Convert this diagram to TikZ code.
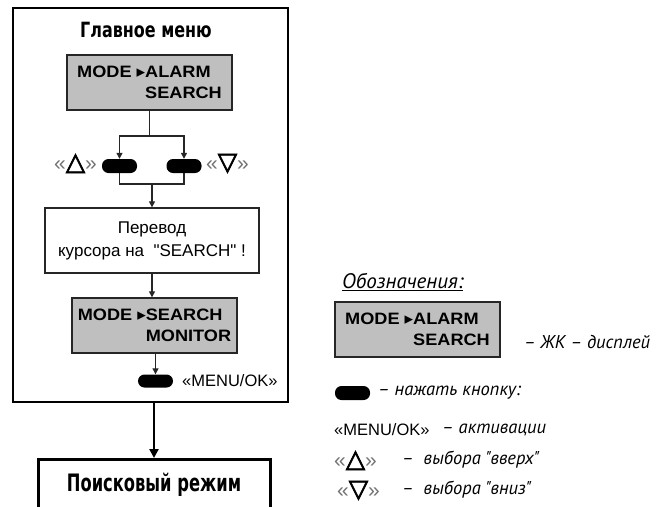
\documentclass[tikz,border=0pt]{standalone}
\usepackage{fontspec}
\setmainfont{Liberation Sans}[Ligatures=TeXOff]
\newfontfamily\lcdfont{Liberation Sans}[FakeStretch=1.1]
\newfontfamily\headfont{DejaVu Sans}[FakeStretch=0.76]
\newfontfamily\modefont{DejaVu Sans}[FakeStretch=0.68]
\newfontfamily\symfont{DejaVu Sans}
\newfontfamily\keyfont{DejaVu Sans}[FakeBold=3]
\newfontfamily\notefont{PT Sans}[Ligatures=TeXOff]
\usetikzlibrary{arrows.meta}

% pointer glyph used on the LCD lines
\newcommand{\lcdptr}{{\symfont\fontsize{17}{17}\selectfont ▸}}
% key symbols in angle quotes
\newcommand{\qopen}{{\color{black!55}\fontsize{21}{21}\selectfont «}}
\newcommand{\qclose}{{\color{black!55}\fontsize{21}{21}\selectfont »}}
\newcommand{\upkey}{\qopen{\keyfont\fontsize{25}{25}\selectfont △}\qclose}
\newcommand{\dnkey}{\qopen{\keyfont\fontsize{25}{25}\selectfont ▽}\qclose}

\begin{document}
\begin{tikzpicture}[x=1pt,y=-1pt,
  lcd/.style={draw=black!85, line width=1.3pt, fill=black!25,
    minimum width=165pt, minimum height=55pt, inner sep=0pt, align=left,
    font=\lcdfont\bfseries\fontsize{16.5}{21}\selectfont},
  msgbox/.style={draw=black!85, line width=1.3pt, fill=white,
    minimum width=214pt, minimum height=65pt, inner sep=0pt, align=center,
    font=\fontsize{17}{23}\selectfont},
  keybtn/.style={fill=black, rounded corners=6.5pt,
    minimum width=35pt, minimum height=14pt, inner sep=0pt},
  keylabel/.style={inner sep=0pt, font=\fontsize{17}{17}\selectfont},
  oklabel/.style={inner sep=0pt, font=\fontsize{16.5}{17}\selectfont},
  note/.style={inner sep=0pt, font=\notefont\itshape\fontsize{18.5}{20}\selectfont},
  conn/.style={draw=black!85, line width=1.2pt},
  arr/.style={conn, -{Triangle[length=6pt,width=6pt]}},
  thickarr/.style={draw=black, line width=2.6pt, -{Triangle[length=9pt,width=9pt]}}
]
\useasboundingbox (0,0) rectangle (663,506);
\clip (0,0) rectangle (663,506);

% main menu frame
\node[draw=black, line width=2.6pt, minimum width=275pt, minimum height=394pt,
  inner sep=0pt] (menu) at (150.5,205) {};
\node[inner sep=0pt, font=\headfont\bfseries\fontsize{21}{21}\selectfont]
  (title) at (146,30) {Главное меню};

% first LCD state
\node[lcd] (lcd1) at (149.5,82.5)
  {MODE \lcdptr ALARM\\\phantom{MODE \lcdptr}SEARCH};

% up / down keys
\node[keybtn] (btnup) at (119.5,166) {};
\node[keybtn] (btndn) at (184,166) {};
\node[keylabel, anchor=base east] (lblup) at (97,170) {\upkey};
\node[keylabel, anchor=base west] (lbldn) at (206,170) {\dnkey};

\coordinate (fork) at (149.5,136);
\coordinate (join) at (152,184);
\draw[conn] (lcd1.south) -- (fork);
\draw[arr] (fork) -| (btnup.north);
\draw[arr] (fork) -| (btndn.north);
\draw[conn] (btnup.south) |- (join) -| (btndn.south);

% cursor message
\node[msgbox] (cursor) at (152,240.5) {Перевод\\курсора на \ "SEARCH" !};
\draw[arr] (join) -- (join |- cursor.north);

% second LCD state
\node[lcd] (lcd2) at (154.5,325.5)
  {MODE \lcdptr SEARCH\\\phantom{MODE \lcdptr}MONITOR};
\draw[arr] (cursor.south) -- (cursor.south |- lcd2.north);

% MENU/OK key
\node[keybtn, minimum height=13pt] (btnok) at (155.5,381) {};
\node[oklabel, anchor=west] (lblok) at (182,381) {«MENU/OK»};
\draw[arr] (lcd2.south -| btnok.north) -- (btnok.north);

% search mode
\node[draw=black, line width=3pt, fill=white, minimum width=232pt,
  minimum height=50pt, inner sep=0pt, anchor=north,
  font=\modefont\bfseries\fontsize{24}{24}\selectfont]
  (search) at (154,458) {Поисковый режим};
\draw[thickarr] (search.north |- menu.south) -- (search.north);

% legend
\node[note, anchor=west, font=\notefont\itshape\fontsize{21}{22}\selectfont]
  (legtitle) at (342,282) {\underline{Обозначения:}};
\node[lcd] (leglcd) at (417.5,329.5)
  {MODE \lcdptr ALARM\\\phantom{MODE \lcdptr}SEARCH};
\node[note, anchor=west] (leglcdtxt) at (524,342) {– ЖК – дисплей};
\node[keybtn] (legbtn) at (352.5,393) {};
\node[note, anchor=west] (legbtntxt) at (378,393) {– нажать кнопку:};
\node[oklabel, anchor=west] (legok) at (334,430) {«MENU/OK»};
\node[note, anchor=west] (legoktxt) at (442,430) {– активации};
\node[keylabel, anchor=base west] (legup) at (334,467) {\upkey};
\node[note, anchor=west] (leguptxt) at (402,460) {– \ выбора "вверх"};
\node[keylabel, anchor=base west] (legdn) at (337,497) {\dnkey};
\node[note, anchor=west] (legdntxt) at (402,490) {– \ выбора "вниз"};
\end{tikzpicture}
\end{document}
